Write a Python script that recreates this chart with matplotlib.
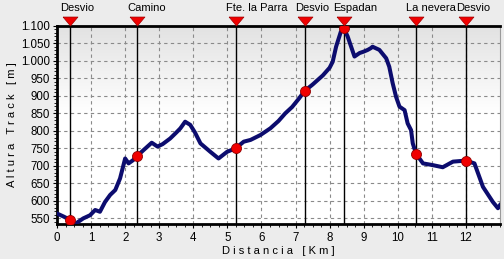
import numpy as np
import matplotlib
matplotlib.use("Agg")
import matplotlib.pyplot as plt
from matplotlib.ticker import FuncFormatter, MultipleLocator
from matplotlib.colors import LinearSegmentedColormap
from matplotlib.transforms import offset_copy

dist = [0.0, 0.2, 0.4, 0.53, 0.77, 0.97, 1.12, 1.26, 1.41, 1.56, 1.71, 1.85, 2.0, 2.1, 2.23, 2.35,
        2.54, 2.78, 2.95, 3.1, 3.32, 3.5, 3.62, 3.76, 3.91, 4.05, 4.21, 4.5, 4.74, 4.99, 5.24,
        5.48, 5.68, 5.97, 6.26, 6.5, 6.7, 6.9, 7.1, 7.27, 7.5, 7.8, 8.0, 8.09, 8.19, 8.33, 8.41,
        8.53, 8.73, 8.88, 9.0, 9.12, 9.21, 9.26, 9.46, 9.66, 9.75, 9.85, 9.95, 10.05, 10.2,
        10.29, 10.39, 10.44, 10.54, 10.74, 11.03, 11.32, 11.62, 12.0, 12.25, 12.5, 12.79,
        12.94, 13.0]
elev = [564, 555, 545, 534, 550, 559, 574, 569, 597, 617, 631, 664, 721, 707, 716, 728,
        745, 766, 755, 762, 778, 795, 807, 826, 817, 795, 764, 740, 721, 740, 750,
        769, 774, 788, 807, 828, 850, 868, 892, 914, 932, 958, 980, 997, 1040, 1083, 1094,
        1069, 1012, 1022, 1026, 1031, 1036, 1040, 1031, 1007, 983, 936, 897, 869, 859,
        821, 802, 764, 734, 707, 702, 696, 712, 715, 707, 640, 597,
        579, 588]

wp_names = ["Desvio", "Camino", "Fte. la Parra", "Desvio", "Espadan", "La nevera", "Desvio"]
wp_dist = [0.39, 2.35, 5.24, 7.27, 8.41, 10.54, 12.0]
wp_elev = [545, 728, 750, 914, 1094, 734, 715]

y_ticks = list(range(550, 1101, 50))
x_ticks = list(range(0, 13))

fig = plt.figure(figsize=(5.04, 2.59), dpi=100, facecolor="#ECECEC")
ax = fig.add_axes([57/504, 1-224/259, (500-57)/504, (224-25.7)/259])

# gradient background (gray at top fading to white)
grad = np.concatenate([np.linspace(0.0, 1.0, 45), np.ones(55)]).reshape(-1, 1)
cmap = LinearSegmentedColormap.from_list("g", ["#E2E2E2", "#FFFFFF"])
ax.imshow(grad, extent=[0, 1, 0, 1], origin="upper", transform=ax.transAxes, cmap=cmap,
          aspect="auto", zorder=0, interpolation="bilinear")
ax.set_xlim(0, 13.0)
ax.set_ylim(534, 1100)

ax.set_yticks(y_ticks)
ax.set_xticks(x_ticks)
ax.yaxis.set_minor_locator(MultipleLocator(10))
ax.xaxis.set_minor_locator(MultipleLocator(0.25))
ax.yaxis.set_major_formatter(FuncFormatter(lambda v, p: f"{int(v):,}".replace(",", ".")))
ax.grid(True, which="major", color="#8A8A8A", linestyle=(0, (3, 3)), linewidth=0.8, zorder=1)

font = "Liberation Sans"
ax.tick_params(axis="both", which="major", labelsize=8.3, length=3, width=0.8, colors="black",
               direction="out")
ax.tick_params(axis="both", which="minor", length=2, width=0.6, direction="out")
for lab in ax.get_xticklabels() + ax.get_yticklabels():
    lab.set_fontfamily(font)
ax.tick_params(axis="x", pad=3)
ax.tick_params(axis="y", pad=2)

for s in ["left", "bottom", "top"]:
    ax.spines[s].set_linewidth(2)
    ax.spines[s].set_color("black")
ax.spines["right"].set_linewidth(0.8)
ax.spines["right"].set_color("#9A9A9A")

ax.set_xlabel("D i s t a n c i a   [ K m ]", fontfamily=font, fontsize=8, labelpad=1)
ax.set_ylabel("A l t u r a   T r a c k   [ m ]", fontfamily=font, fontsize=8, labelpad=3)

# waypoint vertical lines
for xd in wp_dist:
    ax.axvline(xd, color="black", linewidth=1.0, zorder=2)

ax.plot(dist, elev, color="#0C0C6E", linewidth=2.9, zorder=3, solid_joinstyle="round")

ax.scatter(wp_dist, wp_elev, s=52, color="#F00000", edgecolors="#900000", linewidths=0.6, zorder=4)

# triangles and labels above the axes
trans = ax.get_xaxis_transform()
tri_marker = [(-1.0, 0.6), (1.0, 0.6), (0.0, -0.6), (-1.0, 0.6)]
tri_t = offset_copy(trans, fig=fig, x=0, y=3.2, units="points")
ax.scatter(wp_dist, [1.0] * len(wp_dist), marker=tri_marker, s=115, color="#F00000",
           edgecolors="#A00000", linewidths=0.5, transform=tri_t, clip_on=False, zorder=5)
for name, xd in zip(wp_names, wp_dist):
    t = offset_copy(trans, fig=fig, x=-7.2, y=13.0, units="points")
    ax.text(xd, 1.0, name, transform=t, ha="left", va="center",
            fontsize=8, fontfamily=font, clip_on=False)

fig.savefig("out.png", dpi=100, facecolor=fig.get_facecolor())
